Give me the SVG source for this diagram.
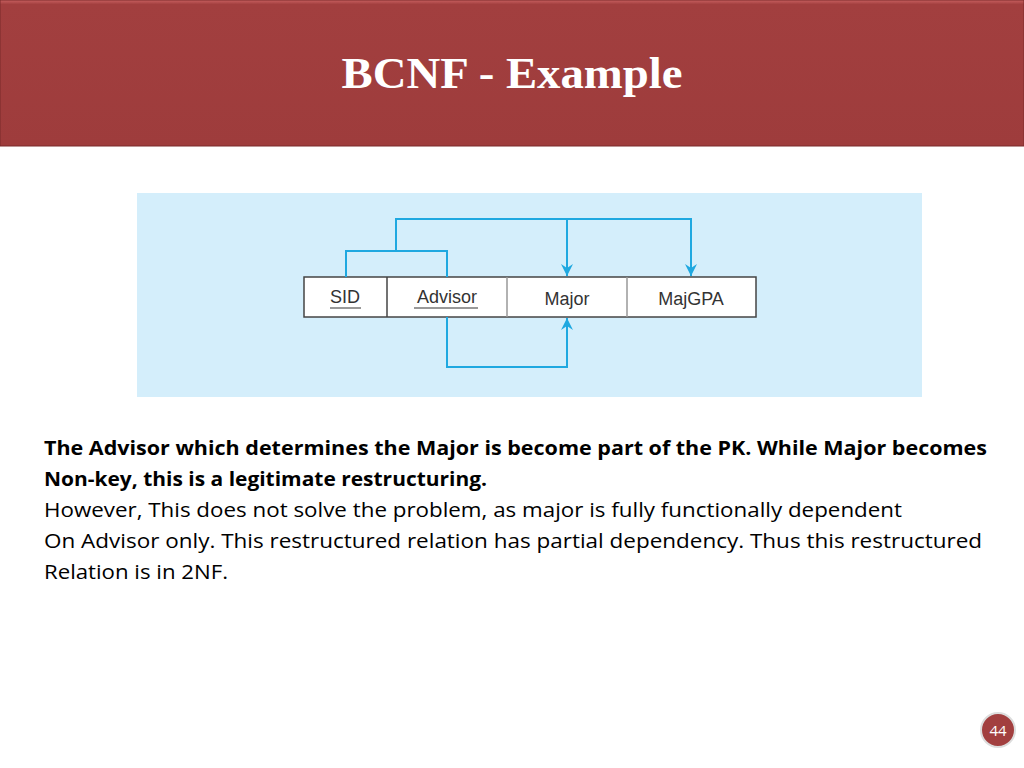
<svg xmlns="http://www.w3.org/2000/svg" width="1024" height="768" viewBox="0 0 1024 768">
<defs>
<linearGradient id="hg" x1="0" y1="0" x2="0" y2="1"><stop offset="0" stop-color="#c86060"/><stop offset="0.03" stop-color="#a23f3f"/><stop offset="1" stop-color="#9e3c3c"/></linearGradient>
<marker id="ah" markerWidth="12" markerHeight="12" refX="12" refY="6" orient="auto" markerUnits="userSpaceOnUse" viewBox="0 0 12 12"><path d="M0,0 L12,6 L0,12 L4,6 Z" fill="#1fa8e0"/></marker>
<style>
.cell{fill:#fff;stroke:#444;stroke-width:1.5}
.lbl{font-family:"Liberation Sans",Arial,sans-serif;font-size:18px;fill:#333;text-anchor:middle}
.c{fill:none;stroke:#1fa8e0;stroke-width:2}
.body{font-family:"Open Sans","Liberation Sans",sans-serif;font-size:20px;fill:#000}
</style>
</defs>
<rect width="1024" height="768" fill="#fff"/>
<rect x="0" y="0" width="1024" height="146" fill="url(#hg)" stroke="#7a2a2a"/>
<text x="512" y="88" text-anchor="middle" font-family="Liberation Serif,serif" font-weight="bold" font-size="44" fill="#fff" textLength="341" lengthAdjust="spacingAndGlyphs">BCNF - Example</text>
<rect x="137" y="193" width="785" height="204" fill="#d4eefb"/>
<g id="table">
<rect class="cell" x="304" y="277" width="452" height="40"/>
<line x1="387" y1="277" x2="387" y2="317" stroke="#444" stroke-width="1.5"/>
<line x1="507" y1="277" x2="507" y2="317" stroke="#999" stroke-width="1.5"/>
<line x1="627" y1="277" x2="627" y2="317" stroke="#999" stroke-width="1.5"/>
</g>
<g id="SID"><text class="lbl" x="345" y="303">SID</text><line x1="330" y1="308" x2="361" y2="308" stroke="#999" stroke-width="2"/></g>
<g id="Advisor"><text class="lbl" x="447" y="303">Advisor</text><line x1="414" y1="308" x2="478" y2="308" stroke="#999" stroke-width="2"/></g>
<g id="Major"><text class="lbl" x="567" y="305">Major</text></g>
<g id="MajGPA"><text class="lbl" x="691" y="305">MajGPA</text></g>
<g id="connectors">
<path class="c" d="M346,277 V251 H447 V277"/>
<path class="c" d="M396,251 V219 H691 V276" marker-end="url(#ah)"/>
<path class="c" d="M567,219 V276" marker-end="url(#ah)"/>
<path class="c" d="M447,317 V367 H567 V318" marker-end="url(#ah)"/>
</g>
<text class="body" font-weight="bold" x="44" y="455" textLength="943" lengthAdjust="spacingAndGlyphs">The Advisor which determines the Major is become part of the PK. While Major becomes</text>
<text class="body" font-weight="bold" x="44" y="486" textLength="443" lengthAdjust="spacingAndGlyphs">Non-key, this is a legitimate restructuring.</text>
<text class="body" x="44" y="517" textLength="858" lengthAdjust="spacingAndGlyphs">However, This does not solve the problem, as major is fully functionally dependent</text>
<text class="body" x="44" y="548" textLength="938" lengthAdjust="spacingAndGlyphs">On Advisor only.  This restructured relation has partial dependency.  Thus this restructured</text>
<text class="body" x="44" y="579" textLength="184" lengthAdjust="spacingAndGlyphs">Relation is in 2NF.</text>
<circle cx="998" cy="730" r="17" fill="#a23f3f" stroke="#ddd" stroke-width="2"/>
<text x="998" y="736" text-anchor="middle" font-family="Open Sans,sans-serif" font-size="15" fill="#fff">44</text>
</svg>
